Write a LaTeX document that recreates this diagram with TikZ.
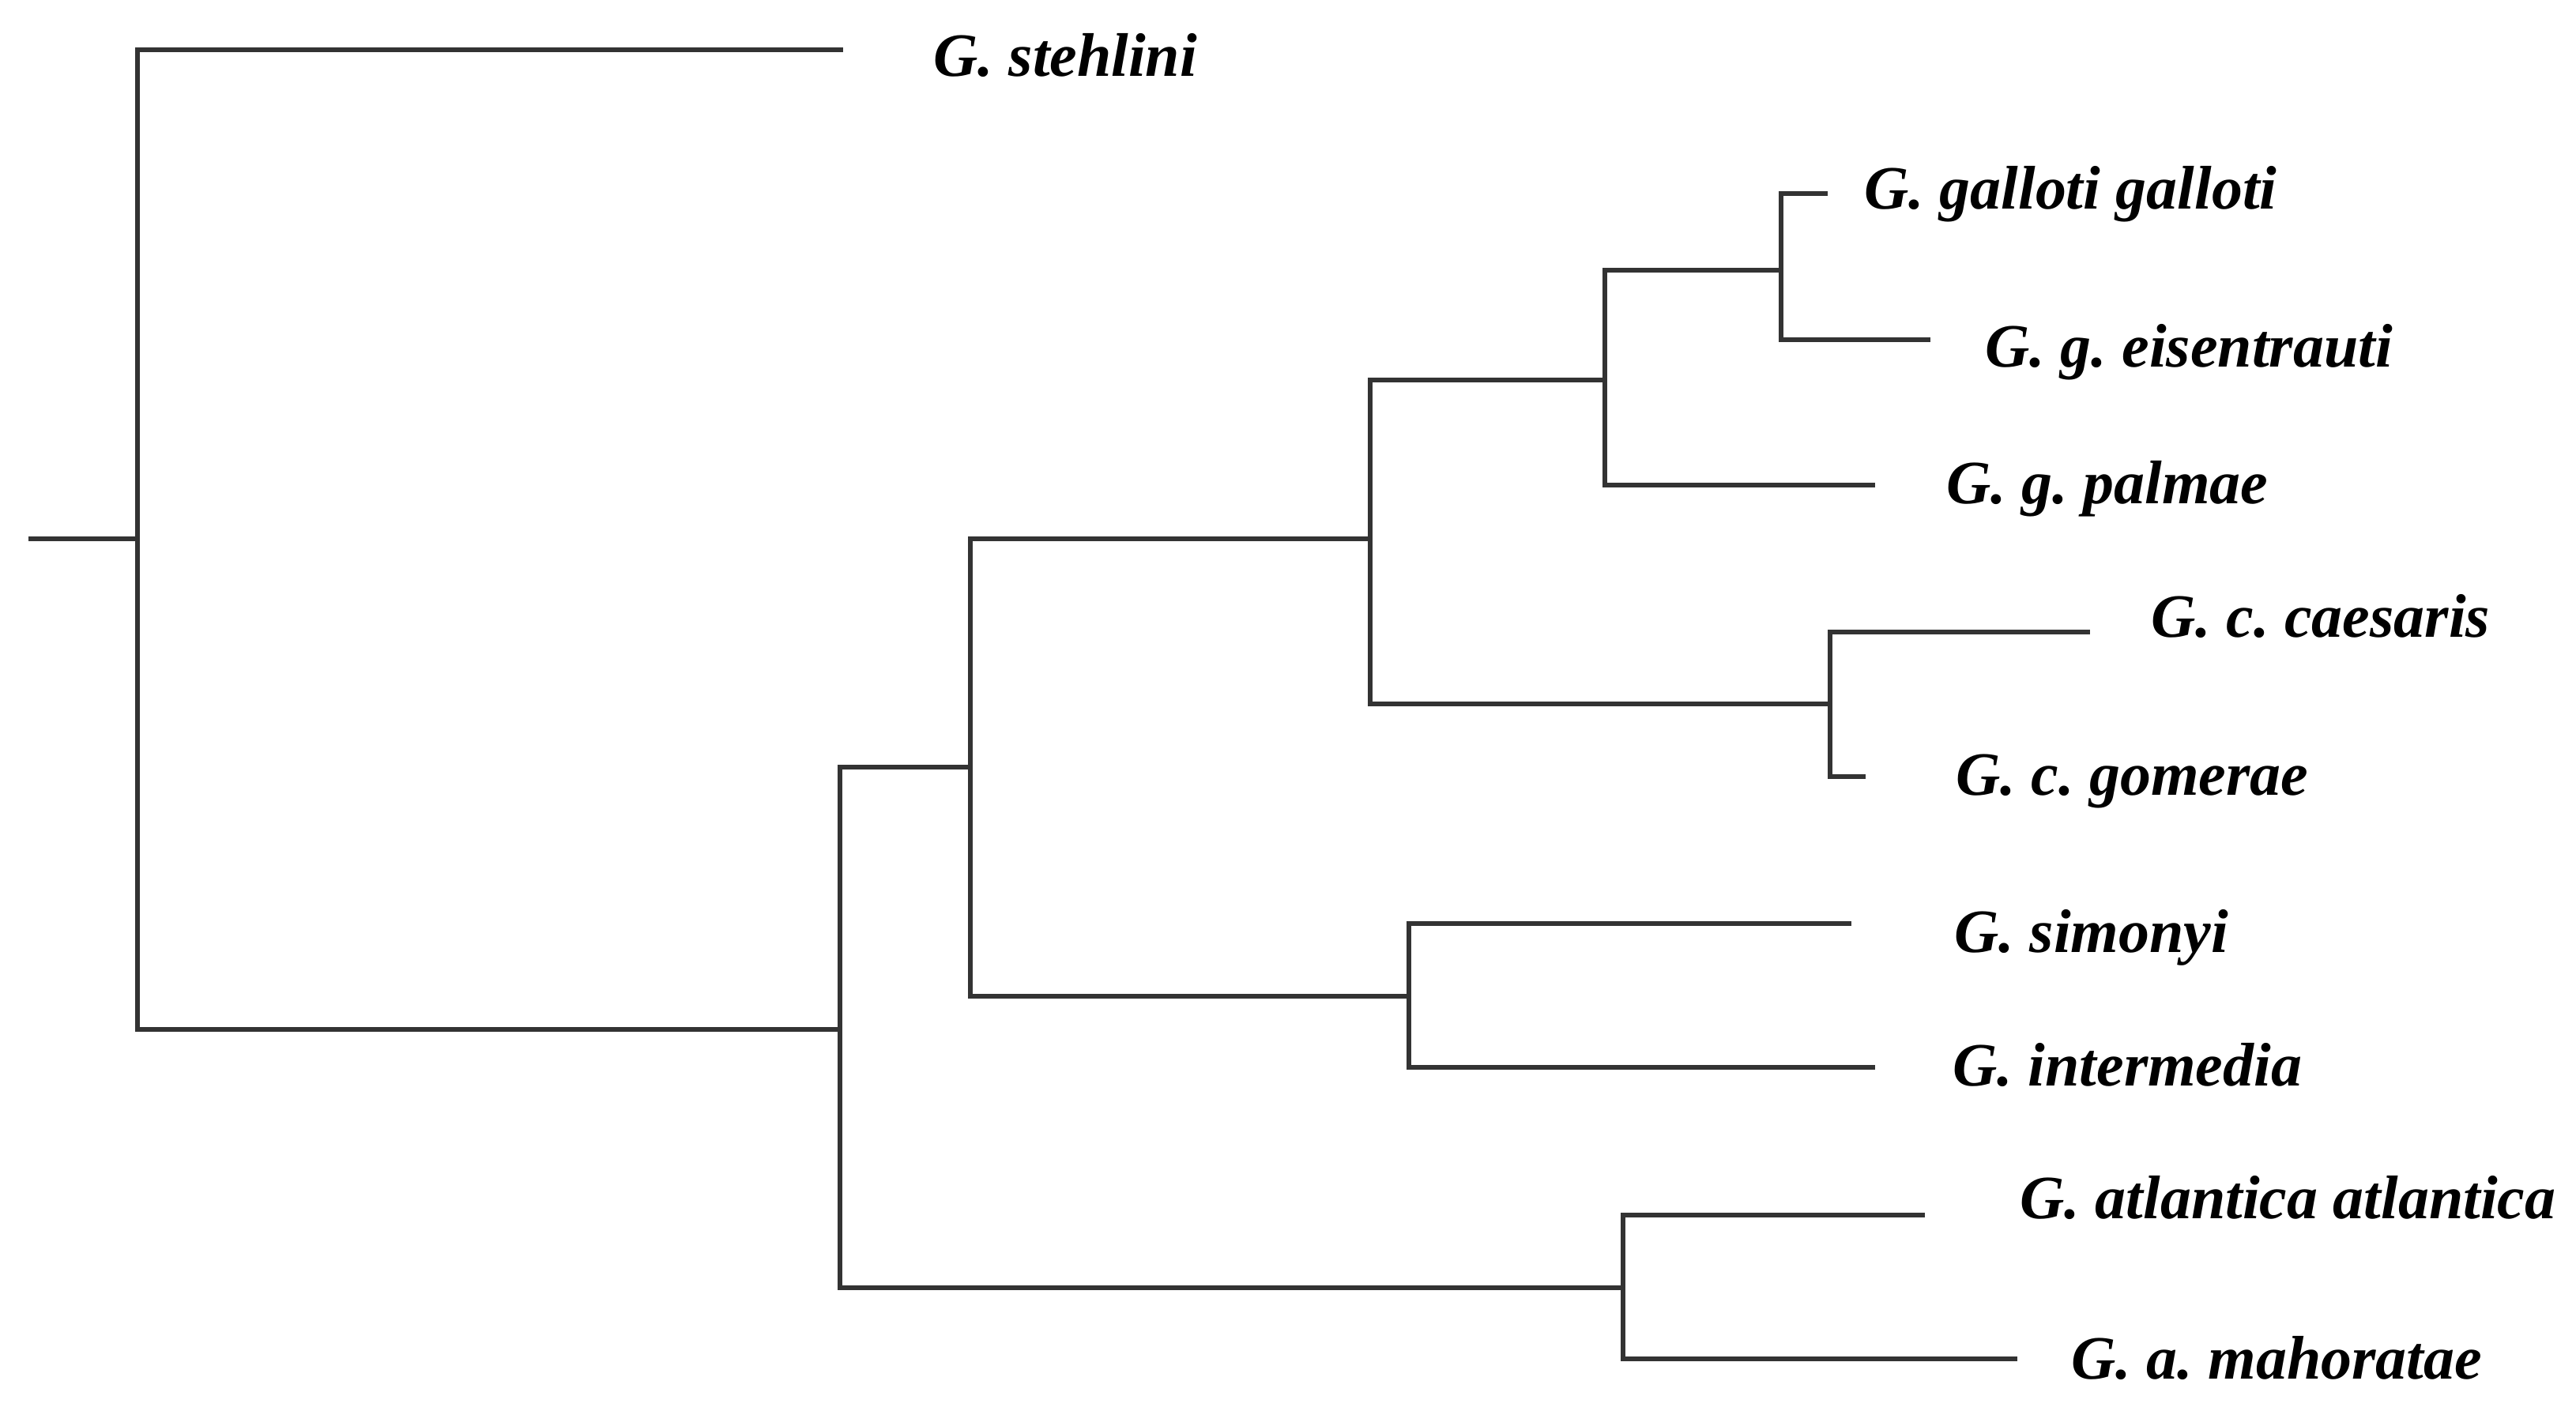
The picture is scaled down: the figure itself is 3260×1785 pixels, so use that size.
\documentclass[tikz,border=0pt]{standalone}
\usepackage{fontspec}
\setmainfont{Liberation Serif}
\usetikzlibrary{positioning}
\frenchspacing

\begin{document}
\begin{tikzpicture}[x=0.005cm, y=-0.005cm,
 branch/.style={draw=black!80, line width=0.95pt},
 taxon/.style={anchor=base west, inner sep=0pt, font=\fontsize{11.1}{13}\selectfont\bfseries\itshape}]
 \useasboundingbox (0,0) rectangle (3260,1785);

 % inner nodes
 \coordinate (R) at (36,682);
 \coordinate (N0) at (174,682);
 \coordinate (N1) at (1063,1303);
 \coordinate (N2) at (1228,971);
 \coordinate (N3) at (1734,682);
 \coordinate (N4) at (2031,481);
 \coordinate (N5) at (1783,1261);
 \coordinate (N6) at (2054,1630);
 \coordinate (N7) at (2316,891);
 \coordinate (N8) at (2254,342);

 % tips
 \coordinate (stehlini) at (1067,63);
 \coordinate (gallotti) at (2313,245);
 \coordinate (eisentrauti) at (2443,430);
 \coordinate (palmae) at (2373,614);
 \coordinate (caesaris) at (2645,800);
 \coordinate (gomerae) at (2361,983);
 \coordinate (simonyi) at (2343,1169);
 \coordinate (intermedia) at (2373,1351);
 \coordinate (atlantica) at (2436,1538);
 \coordinate (mahoratae) at (2553,1720);

 % labels
 \node[taxon] (Lstehlini) at (1180,96) {G. stehlini};
 \node[taxon] (Lgallotti) at (2358,264) {G. galloti galloti};
 \node[taxon] (Leisentrauti) at (2511,464) {G. g. eisentrauti};
 \node[taxon] (Lpalmae) at (2462,637) {G. g. palmae};
 \node[taxon] (Lcaesaris) at (2721,806) {G. c. caesaris};
 \node[taxon] (Lgomerae) at (2474,1006) {G. c. gomerae};
 \node[taxon] (Lsimonyi) at (2472,1205) {G. simonyi};
 \node[taxon] (Lintermedia) at (2470,1374) {G. intermedia};
 \node[taxon] (Latlantica) at (2555,1542) {G. atlantica atlantica};
 \node[taxon] (Lmahoratae) at (2620,1745) {G. a. mahoratae};

 % branches
 \draw[branch] (R) -- (N0);
 \draw[branch] (N0) |- (stehlini);
 \draw[branch] (N0) |- (N1);
 \draw[branch] (N1) |- (N2);
 \draw[branch] (N1) |- (N6);
 \draw[branch] (N2) |- (N3);
 \draw[branch] (N2) |- (N5);
 \draw[branch] (N3) |- (N4);
 \draw[branch] (N3) |- (N7);
 \draw[branch] (N4) |- (N8);
 \draw[branch] (N4) |- (palmae);
 \draw[branch] (N8) |- (gallotti);
 \draw[branch] (N8) |- (eisentrauti);
 \draw[branch] (N7) |- (caesaris);
 \draw[branch] (N7) |- (gomerae);
 \draw[branch] (N5) |- (simonyi);
 \draw[branch] (N5) |- (intermedia);
 \draw[branch] (N6) |- (atlantica);
 \draw[branch] (N6) |- (mahoratae);
\end{tikzpicture}
\end{document}
